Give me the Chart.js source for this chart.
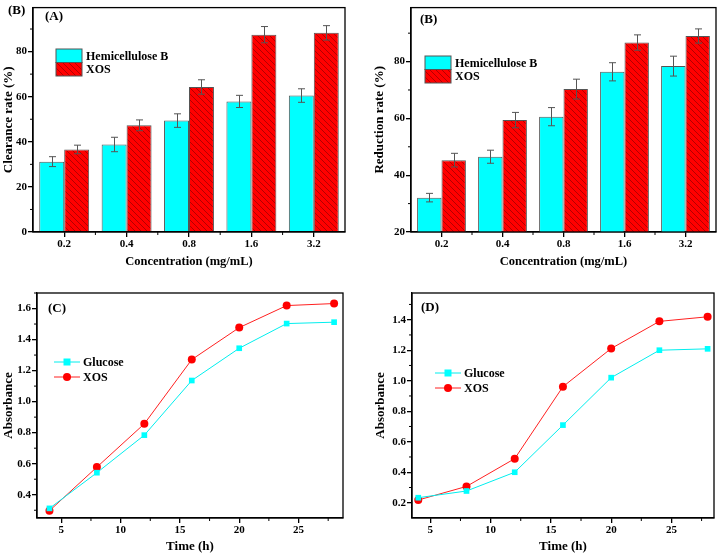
<!DOCTYPE html>
<html>
<head>
<meta charset="utf-8">
<script src="https://cdn.jsdelivr.net/npm/chart.js@4.4.0/dist/chart.umd.min.js"></script>
<style>
body{margin:0;background:#fff;}
#wrap{position:relative;width:719px;height:555px;overflow:hidden;}
canvas{position:absolute;}
</style>
</head>
<body>
<div id="wrap">
  <canvas id="chartA" width="355" height="270" style="left:0;top:0"></canvas>
  <canvas id="chartB" width="359" height="270" style="left:360px;top:0"></canvas>
  <canvas id="chartC" width="355" height="283" style="left:0;top:272px"></canvas>
  <canvas id="chartD" width="359" height="283" style="left:360px;top:272px"></canvas>
</div>
<script>
/* data */
const concLabels = ['0.2', '0.4', '0.8', '1.6', '3.2'];

const hemiClear    = [31.2, 38.8, 49.4, 57.9, 60.5];
const hemiClearErr = [2.2, 3.2, 3.0, 2.7, 3.0];
const xosClear     = [36.6, 47.3, 64.3, 87.5, 88.3];
const xosClearErr  = [1.9, 2.4, 3.2, 3.6, 3.2];

const hemiReduce    = [32.1, 46.5, 60.6, 76.4, 78.4];
const hemiReduceErr = [1.5, 2.3, 3.2, 3.2, 3.5];
const xosReduce     = [45.3, 59.4, 70.3, 86.7, 89.0];
const xosReduceErr  = [2.4, 2.7, 3.5, 2.7, 2.5];

const timeH    = [4, 8, 12, 16, 20, 24, 28];
const glucoseC = [0.312, 0.542, 0.784, 1.136, 1.344, 1.503, 1.512];
const xosC     = [0.297, 0.578, 0.857, 1.271, 1.477, 1.619, 1.632];
const glucoseD = [0.233, 0.277, 0.400, 0.709, 1.020, 1.200, 1.209];
const xosD     = [0.218, 0.307, 0.489, 0.961, 1.211, 1.389, 1.419];

const ticksA = [0, 20, 40, 60, 80];
const minorA = [10, 30, 50, 70, 90];
const ticksB = [20, 40, 60, 80];
const minorB = [30, 50, 70, 90];
const ticksTime = [5, 10, 15, 20, 25];
const minorTime = [7.5, 12.5, 17.5, 22.5, 27.5];
const ticksC = [0.4, 0.6, 0.8, 1.0, 1.2, 1.4, 1.6];
const minorC = [0.3, 0.5, 0.7, 0.9, 1.1, 1.3, 1.5, 1.7];
const ticksD = [0.2, 0.4, 0.6, 0.8, 1.0, 1.2, 1.4];
const minorD = [0.3, 0.5, 0.7, 0.9, 1.1, 1.3, 1.5];

const SERIF = '"Liberation Serif", "Times New Roman", serif';
const tickFont = { family: SERIF, size: 11, weight: 'bold' };
const titleFont = { family: SERIF, size: 13, weight: 'bold' };

/* red fill with thin dark diagonal hatch */
function makeHatch() {
  const n = 6;
  const c = document.createElement('canvas');
  c.width = n; c.height = n;
  const g = c.getContext('2d');
  g.fillStyle = '#ff0000';
  g.fillRect(0, 0, n, n);
  g.strokeStyle = '#800000';
  g.lineWidth = 0.6;
  g.beginPath();
  g.moveTo(-1, -1); g.lineTo(n + 1, n + 1);
  g.moveTo(-1, n - 1); g.lineTo(1, n + 1);
  g.moveTo(n - 1, -1); g.lineTo(n + 1, 1);
  g.stroke();
  return g.createPattern(c, 'repeat');
}

/* frame, minor ticks, error bars, legend, panel labels */
const deco = {
  id: 'deco',
  afterDatasetsDraw(chart, args, o) {
    const ctx = chart.ctx;
    const ys = chart.scales.y;
    ctx.save();
    if (o.errors) {
      ctx.strokeStyle = '#555';
      ctx.lineWidth = 1;
      o.errors.forEach((errs, di) => {
        const vals = chart.data.datasets[di].data;
        chart.getDatasetMeta(di).data.forEach((el, i) => {
          const x = Math.round(el.x) + 0.5;
          const t = ys.getPixelForValue(vals[i] + errs[i]);
          const b = ys.getPixelForValue(vals[i] - errs[i]);
          ctx.beginPath();
          ctx.moveTo(x, t); ctx.lineTo(x, b);
          ctx.moveTo(x - 3.5, t); ctx.lineTo(x + 3.5, t);
          ctx.moveTo(x - 3.5, b); ctx.lineTo(x + 3.5, b);
          ctx.stroke();
        });
      });
    }
    ctx.restore();
  },
  afterDraw(chart, args, o) {
    const ctx = chart.ctx, a = chart.chartArea;
    const xs = chart.scales.x, ys = chart.scales.y;
    ctx.save();
    ctx.strokeStyle = '#000';
    ctx.lineWidth = 1.3;
    ctx.strokeRect(a.left, a.top, a.right - a.left, a.bottom - a.top);
    ctx.lineWidth = 1;
    ctx.beginPath();
    (o.minorY || []).forEach(v => {
      if (v < ys.min || v > ys.max) return;
      const y = ys.getPixelForValue(v);
      ctx.moveTo(a.left, y); ctx.lineTo(a.left - 3, y);
    });
    (o.minorX || []).forEach(v => {
      const x = xs.getPixelForValue(v);
      ctx.moveTo(x, a.bottom); ctx.lineTo(x, a.bottom + 3);
    });
    ctx.stroke();

    const L = o.legend;
    ctx.font = 'bold 12px ' + SERIF;
    ctx.textBaseline = 'middle';
    chart.data.datasets.forEach((ds, i) => {
      const y = L.y + i * L.dy;
      if (L.type === 'box') {
        ctx.fillStyle = ds.backgroundColor;
        ctx.fillRect(L.x, y, 26, L.dy);
        ctx.strokeStyle = '#555';
        ctx.lineWidth = 1;
        ctx.strokeRect(L.x, y, 26, L.dy);
        ctx.fillStyle = '#000';
        ctx.fillText(ds.label, L.x + 30, y + L.dy / 2 + 1);
      } else {
        ctx.strokeStyle = ds.borderColor;
        ctx.lineWidth = 1;
        ctx.beginPath();
        ctx.moveTo(L.x, y); ctx.lineTo(L.x + 26, y);
        ctx.stroke();
        ctx.fillStyle = ds.backgroundColor;
        ctx.beginPath();
        if (ds.pointStyle === 'rect') {
          ctx.rect(L.x + 13 - 3.5, y - 3.5, 7, 7);
        } else {
          ctx.arc(L.x + 13, y, 4, 0, Math.PI * 2);
        }
        ctx.fill();
        ctx.fillStyle = '#000';
        ctx.fillText(ds.label, L.x + 29, y + 1);
      }
    });

    ctx.font = 'bold 13px ' + SERIF;
    ctx.fillStyle = '#000';
    (o.tags || []).forEach(t => ctx.fillText(t[0], t[1], t[2]));
    ctx.restore();
  }
};

function axisX(title, titleSize, extra) {
  return Object.assign({
    grid: { offset: false, drawOnChartArea: false, tickLength: 5, color: '#000', lineWidth: 1.3 },
    border: { color: '#000', width: 1.3 },
    ticks: { font: tickFont, color: '#000', padding: 1, maxRotation: 0 },
    title: { display: true, text: title, font: Object.assign({}, titleFont, { size: titleSize }),
      color: '#000', padding: { top: 0, bottom: 1 } }
  }, extra);
}

function axisY(title, titlePad, extra) {
  return Object.assign({
    grid: { drawOnChartArea: false, tickLength: 5, color: '#000', lineWidth: 1.3 },
    border: { color: '#000', width: 1.3 },
    ticks: { font: tickFont, color: '#000', padding: 1 },
    title: { display: true, text: title, font: titleFont, color: '#000', padding: { top: titlePad, bottom: 0 } }
  }, extra);
}

const baseOpts = { responsive: false, animation: false, devicePixelRatio: 1 };

function barChart(id, hemi, hemiErr, xos, xosErr, yTitle, yMin, yMax, yTicks, yMinor, pad, yW, titlePad, legend, tags) {
  new Chart(document.getElementById(id), {
    type: 'bar',
    data: {
      labels: concLabels,
      datasets: [
        { label: 'Hemicellulose B', data: hemi, backgroundColor: '#00ffff', borderColor: '#555',
          borderWidth: 1, categoryPercentage: 0.8, barPercentage: 1.0 },
        { label: 'XOS', data: xos, backgroundColor: makeHatch(), borderColor: '#555',
          borderWidth: 1, categoryPercentage: 0.8, barPercentage: 1.0 }
      ]
    },
    options: Object.assign({}, baseOpts, {
      layout: { padding: pad },
      plugins: {
        legend: { display: false }, tooltip: { enabled: false },
        deco: { errors: [hemiErr, xosErr], minorY: yMinor, minorX: [0.5, 1.5, 2.5, 3.5], legend: legend, tags: tags }
      },
      scales: {
        x: axisX('Concentration (mg/mL)', 12.5, { afterFit: s => { s.height = 38; } }),
        y: axisY(yTitle, titlePad, {
          min: yMin, max: yMax,
          afterBuildTicks: s => { s.ticks = yTicks.map(v => ({ value: v })); },
          afterFit: s => { s.width = yW; }
        })
      }
    }),
    plugins: [deco]
  });
}

function lineChart(id, glu, xos, xMin, xMax, yMin, yMax, yTicks, yMinor, pad, yW, titlePad, legend, tags) {
  new Chart(document.getElementById(id), {
    type: 'line',
    data: {
      datasets: [
        { label: 'Glucose', data: timeH.map((t, i) => ({ x: t, y: glu[i] })),
          borderColor: '#00eeee', backgroundColor: '#00ffff', borderWidth: 1,
          pointStyle: 'rect', pointRadius: 4, pointBorderWidth: 0 },
        { label: 'XOS', data: timeH.map((t, i) => ({ x: t, y: xos[i] })),
          borderColor: '#ff2020', backgroundColor: '#ff0000', borderWidth: 1,
          pointStyle: 'circle', pointRadius: 4, pointBorderWidth: 0 }
      ]
    },
    options: Object.assign({}, baseOpts, {
      layout: { padding: pad },
      plugins: {
        legend: { display: false }, tooltip: { enabled: false },
        deco: { minorY: yMinor, minorX: minorTime, legend: legend, tags: tags }
      },
      scales: {
        x: axisX('Time (h)', 13, {
          type: 'linear', min: xMin, max: xMax,
          afterBuildTicks: s => { s.ticks = ticksTime.map(v => ({ value: v })); },
          afterFit: s => { s.height = 37; }
        }),
        y: axisY('Absorbance', titlePad, {
          min: yMin, max: yMax,
          ticks: { font: tickFont, color: '#000', padding: 1, callback: v => v.toFixed(1) },
          afterBuildTicks: s => { s.ticks = yTicks.map(v => ({ value: v })); },
          afterFit: s => { s.width = yW; }
        })
      }
    }),
    plugins: [deco]
  });
}

barChart('chartA', hemiClear, hemiClearErr, xosClear, xosClearErr, 'Clearance rate (%)',
  0, 99.5, ticksA, minorA, { top: 1, right: 10, left: 0, bottom: 0 }, 33, 1,
  { type: 'box', x: 56, y: 49, dy: 13.5 }, [['(B)', 8, 11], ['(A)', 45, 17]]);

barChart('chartB', hemiReduce, hemiReduceErr, xosReduce, xosReduceErr, 'Reduction rate (%)',
  20, 99, ticksB, minorB, { top: 5, right: 3, left: 0, bottom: 0 }, 51, 12,
  { type: 'box', x: 65, y: 56, dy: 13.5 }, [['(B)', 60, 20]]);

lineChart('chartC', glucoseC, xosC, 2.95, 28.75, 0.25, 1.70, ticksC, minorC,
  { top: 21, right: 12, left: 0, bottom: 0 }, 37, 1,
  { type: 'line', x: 54, y: 90, dy: 15 }, [['(C)', 48, 37]]);

lineChart('chartD', glucoseD, xosD, 3.48, 28.53, 0.10, 1.575, ticksD, minorD,
  { top: 21, right: 5, left: 0, bottom: 0 }, 52, 13,
  { type: 'line', x: 75, y: 101, dy: 15 }, [['(D)', 61, 36]]);
</script>
</body>
</html>
